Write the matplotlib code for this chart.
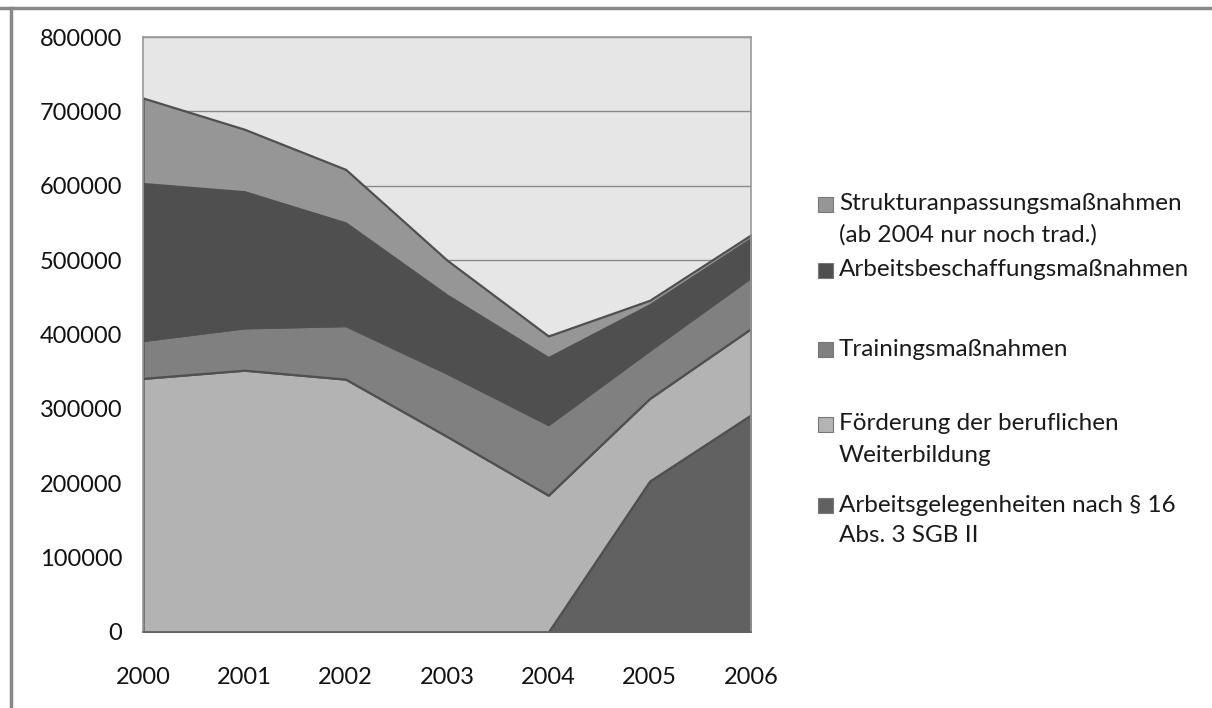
import matplotlib.pyplot as plt
from matplotlib.patches import Rectangle
from matplotlib.lines import Line2D

plt.rcParams['font.family'] = ['Lato', 'DejaVu Sans']

years = [2000, 2001, 2002, 2003, 2004, 2005, 2006]

# Teilnehmer je Instrument (gestapelt, von unten nach oben)
arbeitsgelegenheiten = [0, 0, 0, 0, 0, 203000, 292000]
weiterbildung = [341000, 352000, 340000, 263000, 184000, 111000, 116000]
training = [51000, 57000, 72000, 85000, 95000, 65000, 69000]
abm = [211000, 183000, 138000, 105000, 90000, 61000, 52000]
sam = [115000, 84000, 72000, 47000, 29000, 6000, 5000]

series = [arbeitsgelegenheiten, weiterbildung, training, abm, sam]
labels = [
    'Arbeitsgelegenheiten nach § 16\nAbs. 3 SGB II',
    'Förderung der beruflichen\nWeiterbildung',
    'Trainingsmaßnahmen',
    'Arbeitsbeschaffungsmaßnahmen',
    'Strukturanpassungsmaßnahmen\n(ab 2004 nur noch trad.)',
]
colors = ['#616161', '#b3b3b3', '#808080', '#4f4f4f', '#969696']

W, H = 1212, 708
fig = plt.figure(figsize=(W / 100, H / 100), dpi=100)
ax = fig.add_axes([143 / W, 1 - 632 / H, (751 - 143) / W, (632 - 37) / H])
ax.set_facecolor('#e6e6e6')

ax.stackplot(years, *series, colors=colors, edgecolor='#505050', linewidth=1.6, zorder=2)

ax.set_xlim(2000, 2006)
ax.set_ylim(0, 800000)
ax.set_yticks(range(0, 800001, 100000))
ax.set_xticks(years)
ax.grid(axis='y', color='#8a8a8a', linewidth=1.0, zorder=1)
ax.set_axisbelow(True)
ax.tick_params(length=0, labelsize=17, colors='#111111')
ax.tick_params(axis='y', pad=15)
ax.tick_params(axis='x', pad=25)
for s in ax.spines.values():
    s.set_color('#9a9a9a')
    s.set_linewidth(1.2)
ax.spines['bottom'].set_color('#666666')

# Legende rechts, obere Reihe zuerst
legend_y = [204, 270, 349, 424, 505]
for lab, col, y in zip(labels[::-1], colors[::-1], legend_y):
    fig.add_artist(Rectangle((818 / W, 1 - (y + 8) / H), 15 / W, 15 / H,
                             transform=fig.transFigure, facecolor=col,
                             edgecolor='#777777', linewidth=0.8))
    for i, line in enumerate(lab.split('\n')):
        fig.text(839 / W, 1 - (y + i * 31) / H, line, fontsize=17.5,
                 color='#1a1a1a', va='center', ha='left')

# Rahmen oben und links
fig.add_artist(Line2D([0, 1], [1 - 8 / H, 1 - 8 / H], transform=fig.transFigure,
                      color='#888888', linewidth=2.5))
fig.add_artist(Line2D([10.5 / W, 10.5 / W], [0, 1 - 8 / H], transform=fig.transFigure,
                      color='#888888', linewidth=2.5))

fig.savefig('out.png', dpi=100, facecolor='white')
